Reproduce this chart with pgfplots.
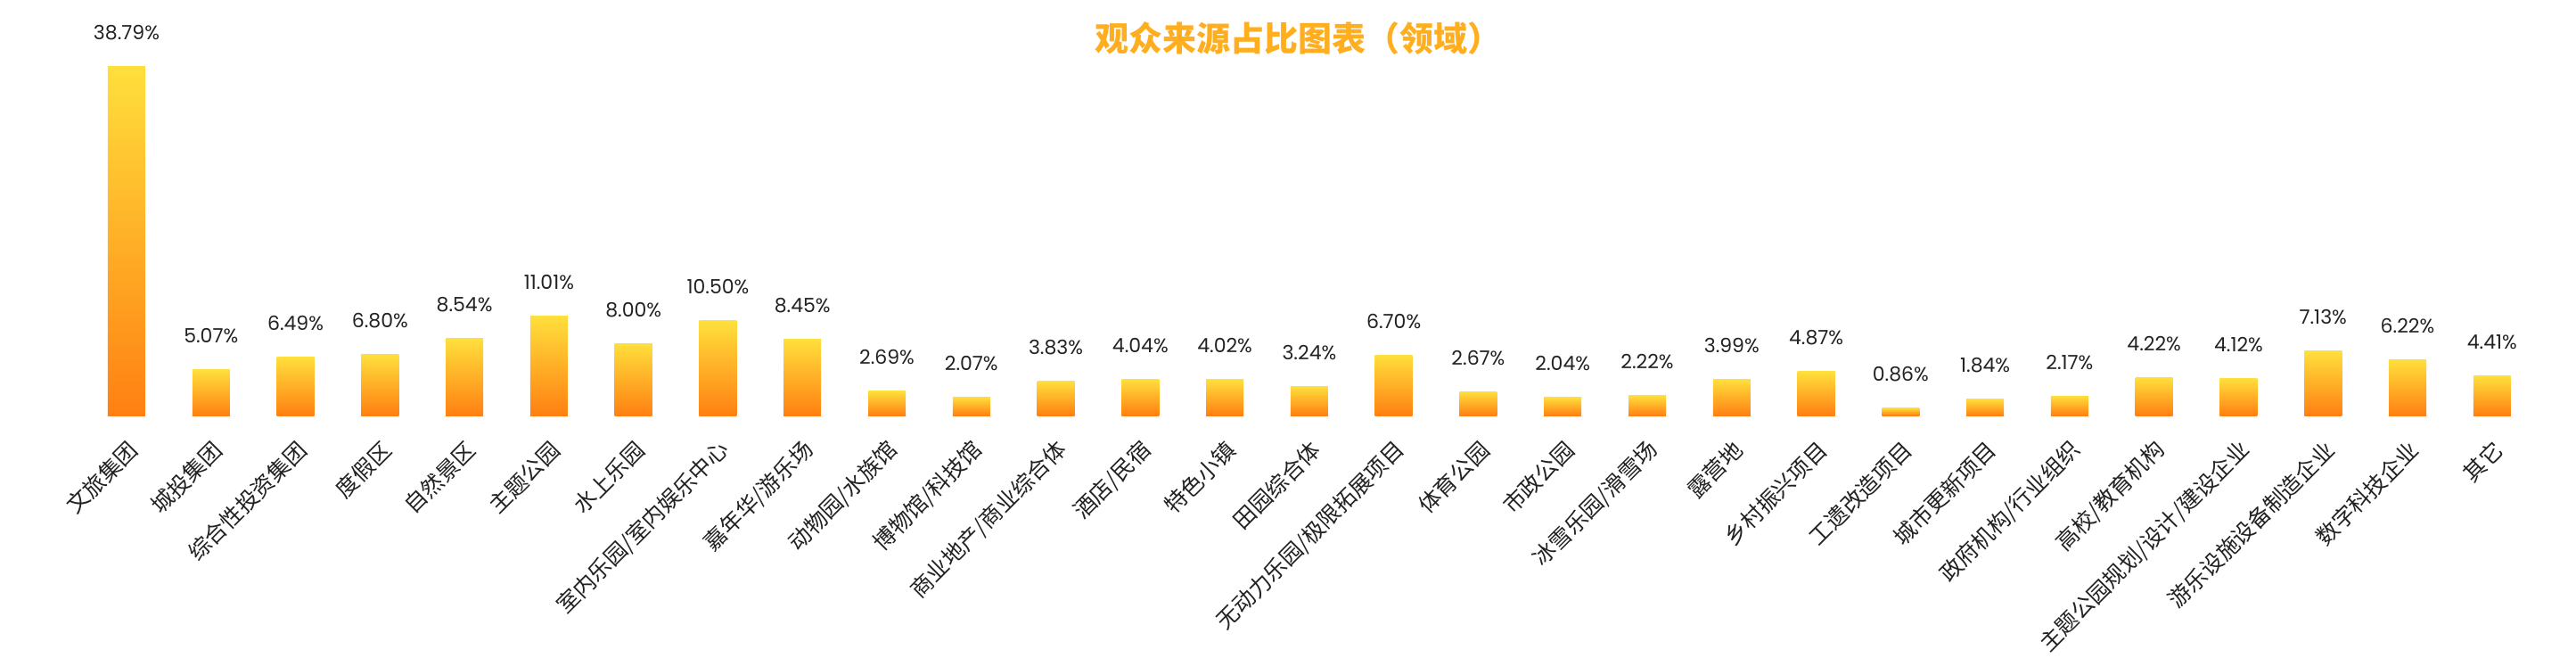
\documentclass[border=0pt]{standalone}
\usepackage{fontspec}
\setmainfont{Noto Sans CJK SC}
\newfontfamily\numfont{Poppins}
\usepackage{pgfplots}
\usepackage{pgfplotstable}
\pgfplotsset{compat=1.18}

\definecolor{barTop}{HTML}{FFDF3C}
\definecolor{barBot}{HTML}{FF8012}
\definecolor{titleC}{HTML}{FFAE1F}
\definecolor{txt}{HTML}{222222}

% share of visitors by sector (%)
\pgfplotstableread{
x y
0 38.79
1 5.07
2 6.49
3 6.80
4 8.54
5 11.01
6 8.00
7 10.50
8 8.45
9 2.69
10 2.07
11 3.83
12 4.04
13 4.02
14 3.24
15 6.70
16 2.67
17 2.04
18 2.22
19 3.99
20 4.87
21 0.86
22 1.84
23 2.17
24 4.22
25 4.12
26 7.13
27 6.22
28 4.41
}\shares

\begin{document}
\begin{tikzpicture}
\useasboundingbox (-47.3pt,-136pt) rectangle (1397.7pt,233pt);
\begin{axis}[
    at={(0,0)}, anchor=south west,
    scale only axis,
    width=1374.3pt, height=202pt,
    xmin=-0.5, xmax=28.5,
    ymin=0, ymax=40,
    clip=false,
    axis line style={draw=none},
    tick style={draw=none},
    ytick=\empty,
    xtick={0,...,28},
    xticklabels={文旅集团,城投集团,综合性投资集团,度假区,自然景区,主题公园,水上乐园,室内乐园/室内娱乐中心,嘉年华/游乐场,动物园/水族馆,博物馆/科技馆,商业地产/商业综合体,酒店/民宿,特色小镇,田园综合体,无动力乐园/极限拓展项目,体育公园,市政公园,冰雪乐园/滑雪场,露营地,乡村振兴项目,工遗改造项目,城市更新项目,政府机构/行业组织,高校/教育机构,主题公园规划/设计/建设企业,游乐设施设备制造企业,数字科技企业,其它},
    xticklabel style={xshift=4pt, yshift=-17pt, rotate=45, anchor=east, inner sep=0pt,
        font=\fontsize{12.5}{13}\selectfont, text=txt},
]
% bars, one per plot so that each gets its own shading
\pgfplotsinvokeforeach{0,...,28}{
  \addplot[ybar, bar width=21pt, bar shift=0pt, draw=none,
      top color=barTop, bottom color=barBot]
      table[x=x, y=y, restrict x to domain=#1:#1] {\shares};
}
% value labels
\addplot[ybar, bar width=21pt, bar shift=0pt, draw=none, fill=none,
    nodes near coords={\numfont\pgfmathprintnumber[fixed,fixed zerofill,precision=2,assume math mode=true]{\pgfplotspointmeta}\%},
    every node near coord/.append style={anchor=base, yshift=15pt, text=txt,
        font=\fontsize{11}{12}\selectfont}] table[x=x, y=y] {\shares};
\end{axis}
\node[font=\bfseries\fontsize{19}{20}\selectfont, text=titleC] at (681pt,211.5pt) {观众来源占比图表（领域）};
\end{tikzpicture}
\end{document}
